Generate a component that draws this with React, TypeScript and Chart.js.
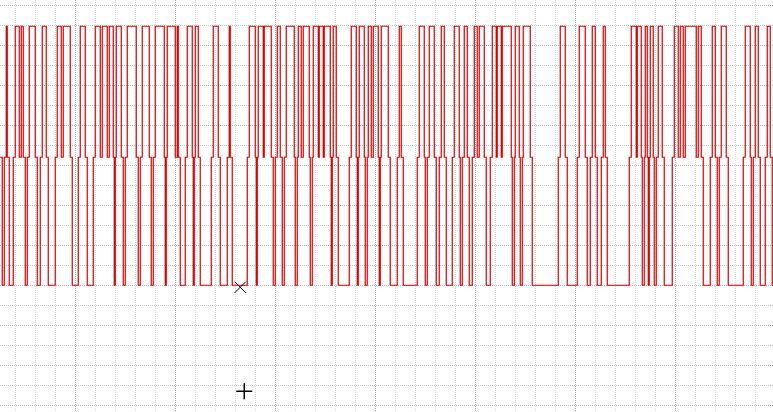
import React, { useEffect, useRef } from "react";
import { Chart, registerables } from "chart.js";

Chart.register(...registerables);

// signal levels (grid units, 1 unit = one horizontal grid step)
const LEVEL_LOW = 0;
const LEVEL_MID = 6.4;
const LEVEL_HIGH = 12.95;

// pulse rising / falling edges (x in px units)
const pulseRise = [
  6, 15, 21, 29, 42, 57, 63, 80, 95, 102, 109, 116, 127,
  142, 155, 167, 177, 187, 195, 213, 229, 249,
  258, 264, 277, 286, 298, 303, 313, 319, 324, 333, 351, 359, 368, 373, 381,
  399, 419, 429, 441, 454, 464, 474, 479, 492, 497, 502,
  515, 523, 560, 579, 592, 603, 631, 637,
  645, 650, 658, 674, 680, 685, 698, 712, 721, 745, 755, 767,
];
const pulseFall = [
  7, 19, 23, 35, 46, 61, 70, 85, 100, 107, 113, 121, 136,
  149, 164, 175, 178, 192, 198, 218, 230, 255,
  263, 271, 280, 294, 301, 309, 318, 323, 330, 336, 356, 364, 371, 378, 388,
  401, 424, 434, 444, 459, 467, 477, 484, 496, 501, 511,
  519, 530, 565, 585, 595, 605, 636, 641,
  647, 653, 662, 678, 683, 696, 701, 715, 726, 750, 758, 770,
];

// cursor markers
const crossMarkX = [240];
const crossMarkY = [-0.1];
const plusMarkX = [244];
const plusMarkY = [-5.3];

// grid positions
const xGridLines = [
  15, 35, 55, 75, 95, 115, 135, 155, 175, 195, 215, 235, 255, 275, 295, 315, 335, 355, 375,
  395, 415, 435, 455, 475, 495, 515, 535, 555, 575, 595, 615, 635, 655, 675, 695, 715, 735, 755,
];
const yGridLines = [-6, -5, -4, -3, -2, -1, 0, 1, 2, 3, 4, 5, 6, 7, 8, 9, 10, 11, 12, 13, 14];

function buildSignal() {
  const pts: { x: number; y: number }[] = [
    { x: -0.5, y: LEVEL_MID },
    { x: 2, y: LEVEL_LOW },
  ];
  let level = LEVEL_LOW;
  for (let i = 0; i < pulseRise.length; i++) {
    const r = pulseRise[i];
    const f = pulseFall[i];
    if (level === LEVEL_LOW) {
      const prevX = pts[pts.length - 1].x;
      const s = r - prevX >= 4 ? 2 : 1;
      pts.push({ x: r - s, y: LEVEL_MID });
    }
    pts.push({ x: r, y: LEVEL_HIGH });
    pts.push({ x: f, y: LEVEL_MID });
    const next = pulseRise[i + 1];
    if (next === undefined || next - f > 2) {
      const gap = next === undefined ? 10 : next - f;
      pts.push({ x: f + (gap >= 6 ? 2 : 1), y: LEVEL_LOW });
      level = LEVEL_LOW;
    } else {
      level = LEVEL_MID;
    }
  }
  pts.push({ x: 773, y: LEVEL_LOW });
  return pts;
}

export default function App() {
  const ref = useRef<HTMLCanvasElement | null>(null);

  useEffect(() => {
    if (!ref.current) return;
    const chart = new Chart(ref.current, {
      type: "line",
      data: {
        datasets: [
          {
            data: crossMarkX.map((x, i) => ({ x, y: crossMarkY[i] })),
            showLine: false,
            pointStyle: "crossRot",
            pointRadius: 8,
            borderColor: "#000000",
            backgroundColor: "#000000",
            borderWidth: 1,
          },
          {
            data: plusMarkX.map((x, i) => ({ x, y: plusMarkY[i] })),
            showLine: false,
            pointStyle: "cross",
            pointRadius: 8,
            borderColor: "#000000",
            backgroundColor: "#000000",
            borderWidth: 1.5,
          },
          {
            data: buildSignal(),
            borderColor: "#dc0000",
            borderWidth: 1.2,
            pointRadius: 0,
            stepped: true,
            fill: false,
            tension: 0,
          },
        ],
      },
      options: {
        animation: false,
        responsive: false,
        maintainAspectRatio: false,
        events: [],
        layout: { padding: 0, autoPadding: false },
        plugins: {
          legend: { display: false },
          tooltip: { enabled: false },
          title: { display: false },
        },
        scales: {
          x: {
            type: "linear",
            min: -0.25,
            max: 772.75,
            ticks: { display: false },
            border: { display: false, dash: [1, 1] },
            grid: {
              drawTicks: false,
              lineWidth: 1,
              color: (ctx: any) =>
                ctx.tick && (ctx.tick.value - 75) % 100 === 0 ? "#ababab" : "#dcdcdc",
            },
            afterBuildTicks: (scale: any) => {
              scale.ticks = xGridLines.map((v) => ({ value: v }));
            },
          },
          y: {
            type: "linear",
            min: -6.3375,
            max: 14.2625,
            ticks: { display: false },
            border: { display: false, dash: [1, 1] },
            grid: {
              drawTicks: false,
              lineWidth: 1,
              color: (ctx: any) =>
                ctx.tick && Math.abs(ctx.tick.value) % 2 === 0 ? "#b4b4b4" : "#cacaca",
            },
            afterBuildTicks: (scale: any) => {
              scale.ticks = yGridLines.map((v) => ({ value: v }));
            },
          },
        },
      },
    } as any);
    return () => chart.destroy();
  }, []);

  return (
    <div style={{ position: "fixed", left: 0, top: 0, width: 773, height: 412, background: "#ffffff" }}>
      <canvas ref={ref} width={773} height={412} style={{ display: "block", width: 773, height: 412 }} />
    </div>
  );
}
